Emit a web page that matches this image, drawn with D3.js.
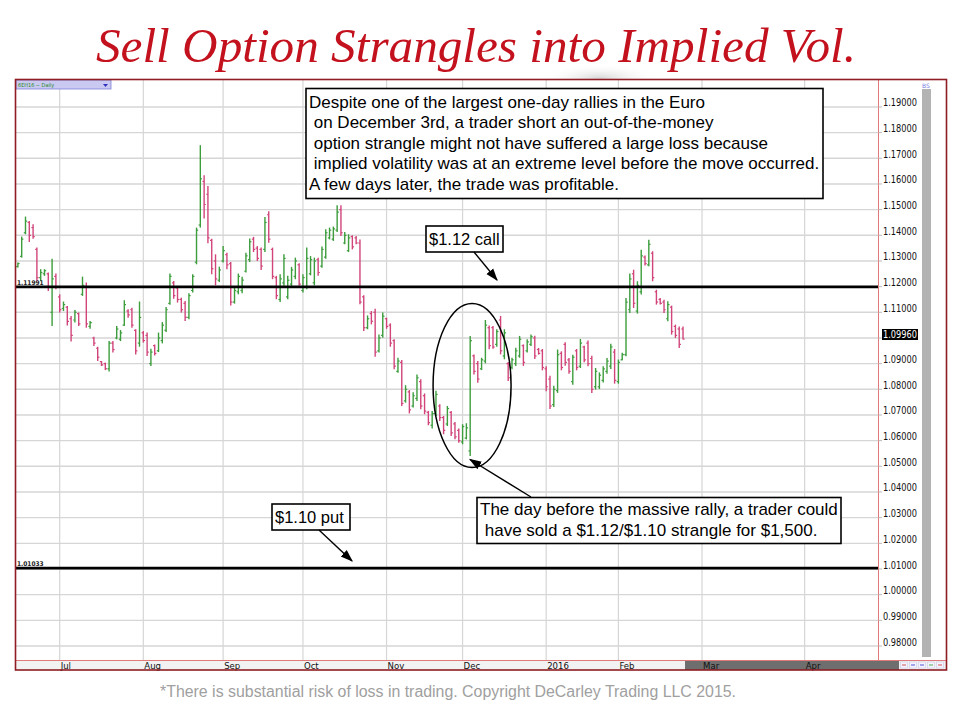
<!DOCTYPE html>
<html><head><meta charset="utf-8">
<script src="https://cdn.jsdelivr.net/npm/d3@7/dist/d3.min.js"></script>
<style>body{margin:0;background:#fff;}svg{display:block;}</style>
</head><body><svg id="c" width="960" height="720"></svg>
<script>
// ---- data (6EH16 daily) ----
const opens = [
1.1278,1.1318,1.1410,1.1450,1.1430,1.1345,1.1235,1.1250,1.1250,1.1100,
1.1240,1.1160,1.1115,1.1120,1.1075,1.1070,1.1095,1.1170,1.1200,1.1045,
1.1000,1.0960,1.0908,1.0900,1.0880,1.0980,1.1000,1.0995,1.1050,1.1105,
1.1110,1.1030,1.0980,1.1020,1.1010,1.0900,1.0970,1.0950,1.0990,1.1030,
1.1135,1.1215,1.1195,1.1150,1.1135,1.1080,1.1185,1.1295,1.1440,1.1610,
1.1560,1.1380,1.1300,1.1225,1.1300,1.1325,1.1290,1.1140,1.1180,1.1185,
1.1260,1.1305,1.1385,1.1350,1.1345,1.1345,1.1480,1.1345,1.1235,1.1150,
1.1215,1.1160,1.1210,1.1240,1.1285,1.1185,1.1200,1.1250,1.1215,1.1305,
1.1280,1.1315,1.1390,1.1385,1.1420,1.1500,1.1370,1.1340,1.1395,1.1390,
1.1370,1.1160,1.1040,1.1095,1.1100,1.0950,1.1010,1.1075,1.1050,1.0990,
1.0870,1.0905,1.0755,1.0790,1.0735,1.0765,1.0830,1.0775,1.0710,1.0660,
1.0705,1.0735,1.0690,1.0665,1.0710,1.0665,1.0640,1.0595,1.0610,1.0560,
1.0930,1.0900,1.0880,1.0910,1.1040,1.1040,1.0975,1.1070,1.0930,1.0900,
1.0885,1.0900,1.0930,1.0970,1.0950,1.0975,1.1000,1.0955,1.0950,1.0880,
1.0840,1.0740,1.0795,1.0940,1.0975,1.0915,1.0830,1.0950,1.0890,1.0965,
1.0980,1.0920,1.0810,1.0810,1.0835,1.0870,1.0890,1.0945,1.0830,1.0915,
1.0935,1.1110,1.1250,1.1105,1.1180,1.1315,1.1285,1.1330,1.1180,1.1150,
1.1140,1.1075,1.1120,1.1045,1.1035,1.1035];
const highs = [
1.1294,1.1395,1.1473,1.1456,1.1443,1.1352,1.1268,1.1268,1.1255,1.1309,
1.1251,1.1170,1.1142,1.1125,1.1086,1.1109,1.1099,1.1239,1.1216,1.1066,
1.1005,1.0966,1.0910,1.0904,1.0988,1.0988,1.1047,1.1031,1.1147,1.1112,
1.1118,1.1034,1.1142,1.1027,1.1021,1.0958,1.0975,1.1021,1.1062,1.1121,
1.1251,1.1222,1.1203,1.1157,1.1144,1.1174,1.1248,1.1430,1.1751,1.1634,
1.1592,1.1387,1.1326,1.1278,1.1358,1.1332,1.1296,1.1196,1.1251,1.1239,
1.1332,1.1388,1.1394,1.1358,1.1352,1.1471,1.1494,1.1352,1.1242,1.1248,
1.1326,1.1242,1.1277,1.1313,1.1291,1.1248,1.1352,1.1319,1.1313,1.1313,
1.1356,1.1424,1.1430,1.1434,1.1517,1.1517,1.1413,1.1404,1.1400,1.1397,
1.1384,1.1166,1.1088,1.1105,1.1114,1.1014,1.1099,1.1079,1.1057,1.0995,
1.0923,1.0914,1.0816,1.0797,1.0789,1.0858,1.0839,1.0784,1.0716,1.0716,
1.0794,1.0742,1.0696,1.0735,1.0716,1.0673,1.0647,1.0664,1.0668,1.1008,
1.0936,1.0910,1.0923,1.1070,1.1049,1.1047,1.1034,1.1086,1.1034,1.0906,
1.0923,1.0962,1.1008,1.0975,1.0995,1.1014,1.1009,1.0961,1.0957,1.0890,
1.0853,1.0814,1.0955,1.0948,1.0983,1.0922,1.0935,1.0957,1.0996,1.0970,
1.0990,1.0931,1.0883,1.0866,1.0890,1.0922,1.0978,1.0957,1.0916,1.0942,
1.1156,1.1251,1.1266,1.1221,1.1344,1.1321,1.1383,1.1338,1.1188,1.1156,
1.1149,1.1143,1.1126,1.1052,1.1045,1.1045];
const lows = [
1.1275,1.1313,1.1404,1.1374,1.1387,1.1222,1.1222,1.1242,1.1183,1.1047,
1.1190,1.1099,1.1105,1.1049,1.0986,1.1060,1.1047,1.1164,1.1040,1.1036,
1.0969,1.0910,1.0891,1.0875,1.0869,1.0943,1.0995,1.0988,1.1047,1.1079,
1.1040,1.0936,1.0966,1.0982,1.0930,1.0891,1.0932,1.0945,1.0979,1.1023,
1.1129,1.1153,1.1138,1.1099,1.1066,1.1073,1.1177,1.1287,1.1430,1.1465,
1.1369,1.1248,1.1205,1.1218,1.1294,1.1268,1.1127,1.1134,1.1170,1.1174,
1.1255,1.1296,1.1335,1.1300,1.1265,1.1335,1.1371,1.1229,1.1151,1.1140,
1.1203,1.1151,1.1203,1.1229,1.1203,1.1177,1.1190,1.1244,1.1205,1.1242,
1.1274,1.1309,1.1384,1.1378,1.1413,1.1397,1.1365,1.1335,1.1345,1.1365,
1.1131,1.1027,1.1034,1.1053,1.0927,1.0943,1.1001,1.1036,1.0966,1.0878,
1.0865,1.0735,1.0748,1.0706,1.0729,1.0754,1.0722,1.0703,1.0660,1.0647,
1.0696,1.0677,1.0625,1.0657,1.0618,1.0605,1.0592,1.0586,1.0605,1.0540,
1.0858,1.0826,1.0875,1.0901,1.0956,1.0958,1.0966,1.0936,1.0917,1.0832,
1.0878,1.0891,1.0923,1.0891,1.0943,1.0969,1.0918,1.0935,1.0874,1.0792,
1.0723,1.0731,1.0786,1.0874,1.0892,1.0861,1.0818,1.0874,1.0883,1.0905,
1.0890,1.0786,1.0799,1.0801,1.0827,1.0861,1.0879,1.0822,1.0822,1.0913,
1.0929,1.1097,1.1117,1.1095,1.1169,1.1282,1.1279,1.1221,1.1130,1.1130,
1.1097,1.1065,1.1013,1.1000,1.0961,1.0994];
const closes = [
1.1290,1.1385,1.1455,1.1400,1.1395,1.1235,1.1255,1.1262,1.1200,1.1230,
1.1200,1.1110,1.1130,1.1065,1.1010,1.1100,1.1055,1.1205,1.1055,1.1060,
1.0980,1.0925,1.0895,1.0880,1.0980,1.0955,1.1035,1.1020,1.1130,1.1090,
1.1050,1.0950,1.1080,1.0990,1.0945,1.0945,1.0940,1.1000,1.1050,1.1110,
1.1240,1.1165,1.1150,1.1110,1.1080,1.1165,1.1240,1.1420,1.1620,1.1520,
1.1390,1.1270,1.1230,1.1265,1.1340,1.1285,1.1140,1.1185,1.1240,1.1225,
1.1320,1.1375,1.1345,1.1310,1.1280,1.1450,1.1385,1.1240,1.1165,1.1230,
1.1310,1.1225,1.1265,1.1300,1.1210,1.1235,1.1310,1.1305,1.1300,1.1255,
1.1345,1.1410,1.1420,1.1425,1.1490,1.1410,1.1400,1.1390,1.1355,1.1370,
1.1140,1.1040,1.1075,1.1065,1.0945,1.1000,1.1085,1.1045,1.0980,1.0890,
1.0910,1.0745,1.0800,1.0720,1.0775,1.0845,1.0735,1.0715,1.0670,1.0705,
1.0780,1.0690,1.0640,1.0725,1.0630,1.0615,1.0600,1.0655,1.0650,1.0990,
1.0870,1.0840,1.0915,1.1050,1.0970,1.0965,1.1025,1.0950,1.1020,1.0845,
1.0915,1.0950,1.0995,1.0905,1.0985,1.1005,1.0930,1.0940,1.0885,1.0810,
1.0735,1.0800,1.0935,1.0885,1.0905,1.0870,1.0925,1.0885,1.0980,1.0915,
1.0900,1.0800,1.0870,1.0855,1.0880,1.0910,1.0965,1.0835,1.0905,1.0935,
1.1140,1.1230,1.1135,1.1205,1.1320,1.1290,1.1365,1.1235,1.1140,1.1135,
1.1110,1.1130,1.1025,1.1010,1.0975,1.0996];

const monthLabels = ["Jul","Aug","Sep","Oct","Nov","Dec","2016","Feb","Mar","Apr"];
const monthIndex  = [11, 33, 54, 75, 97, 117, 139, 158, 180, 207];
const priceTicks  = [0.98,0.99,1.00,1.01,1.02,1.03,1.04,1.05,1.06,1.07,1.08,1.09,1.10,1.11,1.12,1.13,1.14,1.15,1.16,1.17,1.18,1.19];
const callStrike = 1.11991, putStrike = 1.01033, lastPrice = 1.0996;
const rallyIndex = 119;
const title = "Sell Option Strangles into Implied Vol.";
const noteLines = ["Despite one of the largest one-day rallies in the Euro",
  " on December 3rd, a trader short an out-of-the-money",
  " option strangle might not have suffered a large loss because",
  " implied volatility was at an extreme level before the move occurred.",
  "A few days later, the trade was profitable."];
const dayBeforeLines = ["The day before the massive rally, a trader could", " have sold a $1.12/$1.10 strangle for $1,500."];
const footer = "*There is substantial risk of loss in trading. Copyright DeCarley Trading LLC 2015.";

// ---- layout ----
const svg = d3.select("#c");
const P = {l:15.5, r:878.5, t:79.5, b:660.5, outerR:946.5, outerB:670};
const x = d3.scaleLinear().domain([-0.76, 226.3]).range([15, 878]);
const y = d3.scaleLinear().domain([0.97455, 1.20089]).range([660, 79]);
const bars = opens.map((o,i)=>({i, o, h:highs[i], l:lows[i], c:closes[i]}));
const fmt = d3.format(".5f");

// defs
const defs = svg.append("defs");
defs.append("marker").attr("id","ah").attr("viewBox","0 0 10 10").attr("refX",9).attr("refY",5)
  .attr("markerWidth",9).attr("markerHeight",9).attr("orient","auto-start-reverse")
  .append("path").attr("d","M0,1.5 L10,5 L0,8.5 Z").attr("fill","#000");
const glow = defs.append("radialGradient").attr("id","glow");
glow.append("stop").attr("offset","0%").attr("stop-color","#d8d8d8");
glow.append("stop").attr("offset","100%").attr("stop-color","#fff").attr("stop-opacity",0);

// title
svg.append("ellipse").attr("cx",600).attr("cy",78).attr("rx",60).attr("ry",14).attr("fill","url(#glow)");
svg.append("text").attr("x",96).attr("y",62).attr("textLength",760).attr("lengthAdjust","spacingAndGlyphs")
  .attr("font-family","Liberation Serif, DejaVu Serif, serif").attr("font-style","italic")
  .attr("font-size",48).attr("fill","#c3121e").text(title);

// chart background
svg.append("rect").attr("x",P.l).attr("y",P.t).attr("width",P.outerR-P.l).attr("height",P.outerB-P.t).attr("fill","#fff");

// grid
const g = svg.append("g");
g.selectAll("line.hg").data(priceTicks).join("line").attr("class","hg")
  .attr("x1",P.l).attr("x2",881).attr("y1",d=>y(d)).attr("y2",d=>y(d))
  .attr("stroke","#d6d6d6").attr("stroke-width",1.4);
g.selectAll("line.vg").data(monthIndex).join("line").attr("class","vg")
  .attr("x1",d=>x(d)).attr("x2",d=>x(d)).attr("y1",P.t).attr("y2",P.b)
  .attr("stroke","#d6d6d6").attr("stroke-width",1.2);

// OHLC bars
const up = "#3c9d3c", dn = "#d1457a";
const bg = svg.append("g");
bars.forEach(d=>{
  const col = d.c >= d.o ? up : dn, cx = x(d.i);
  bg.append("line").attr("x1",cx).attr("x2",cx).attr("y1",y(d.h)).attr("y2",y(d.l)).attr("stroke",col).attr("stroke-width",1.4);
  bg.append("line").attr("x1",cx-1.7).attr("x2",cx).attr("y1",y(d.o)).attr("y2",y(d.o)).attr("stroke",col).attr("stroke-width",1.2);
  bg.append("line").attr("x1",cx).attr("x2",cx+1.7).attr("y1",y(d.c)).attr("y2",y(d.c)).attr("stroke",col).attr("stroke-width",1.2);
});

// strike lines
[callStrike, putStrike].forEach(v=>{
  svg.append("line").attr("x1",P.l).attr("x2",P.r).attr("y1",y(v)).attr("y2",y(v)).attr("stroke","#000").attr("stroke-width",2.6);
  svg.append("text").attr("x",17).attr("y",y(v)-2).attr("font-family","DejaVu Sans Condensed, DejaVu Sans").attr("font-size",6.5)
    .attr("font-weight","bold").attr("fill","#222").text(fmt(v));
});

// header tab
svg.append("rect").attr("x",16).attr("y",80).attr("width",95).attr("height",9).attr("fill","#c9c9f2").attr("stroke","#8080d8").attr("stroke-width",0.8);
svg.append("text").attr("x",18).attr("y",87).attr("font-family","DejaVu Sans Condensed, DejaVu Sans").attr("font-size",5.5).attr("fill","#2a8a2a").text("6EH16 ~ Daily");
svg.append("path").attr("d","M103,84 L108,84 L105.5,87 Z").attr("fill","#3030c0");

// right axis
svg.append("rect").attr("x",P.r).attr("y",P.t).attr("width",P.outerR-P.r).attr("height",P.b-P.t).attr("fill","#fff");
svg.append("line").attr("x1",P.r).attr("x2",P.r).attr("y1",P.t).attr("y2",P.b).attr("stroke","#e07a7a").attr("stroke-width",1);
svg.selectAll("text.yt").data(priceTicks).join("text").attr("class","yt")
  .attr("x",883).attr("y",d=>y(d)-0.5).attr("font-family","DejaVu Sans Condensed, DejaVu Sans").attr("font-size",9.6)
  .attr("textLength",34).attr("lengthAdjust","spacingAndGlyphs")
  .attr("fill","#111").text(d=>fmt(d));
svg.selectAll("line.yk").data(priceTicks).join("line").attr("class","yk")
  .attr("x1",P.r).attr("x2",882).attr("y1",d=>y(d)).attr("y2",d=>y(d)).attr("stroke","#bbb");
// last price
svg.append("rect").attr("x",882).attr("y",y(lastPrice)-10).attr("width",36).attr("height",11).attr("fill","#000");
svg.append("text").attr("x",883).attr("y",y(lastPrice)-1.5).attr("font-family","DejaVu Sans Condensed, DejaVu Sans").attr("font-size",9.6)
  .attr("textLength",34).attr("lengthAdjust","spacingAndGlyphs")
  .attr("fill","#fff").text(fmt(lastPrice));
// scrollbar
svg.append("rect").attr("x",922).attr("y",89).attr("width",9).attr("height",568).attr("fill","#b3b3b3");
svg.append("text").attr("x",922).attr("y",88).attr("font-family","DejaVu Sans").attr("font-size",6).attr("fill","#7a7ae0").text("BS");

// bottom axis band
svg.append("rect").attr("x",P.l).attr("y",P.b).attr("width",P.outerR-P.l).attr("height",P.outerB-P.b).attr("fill","#f2f2f2");
svg.append("rect").attr("x",x(175)+2).attr("y",P.b).attr("width",899-x(175)-2).attr("height",P.outerB-P.b).attr("fill","#6e6e6e");
svg.append("line").attr("x1",P.l).attr("x2",P.outerR).attr("y1",P.b).attr("y2",P.b).attr("stroke","#e07a7a").attr("stroke-width",1);
svg.selectAll("text.mt").data(monthLabels).join("text").attr("class","mt")
  .attr("x",(d,i)=>x(monthIndex[i])+1).attr("y",668.5).attr("font-family","Liberation Sans Narrow, DejaVu Sans Condensed, sans-serif")
  .attr("font-size",9.5).attr("fill","#111").text(d=>d);
const icons = ["#d04040","#4040d0","#4040d0","#40a040","#d04040"];
icons.forEach((c,i)=>{
  svg.append("rect").attr("x",900.5+i*9).attr("y",662).attr("width",7).attr("height",6).attr("fill","#f4f4ff").attr("stroke","#c8c8e8").attr("stroke-width",0.6);
  svg.append("line").attr("x1",902+i*9).attr("x2",906+i*9).attr("y1",665).attr("y2",665).attr("stroke",c).attr("stroke-width",0.9);
});

// outer frame
svg.append("rect").attr("x",P.l).attr("y",P.t).attr("width",P.outerR-P.l).attr("height",P.outerB-P.t)
  .attr("fill","none").attr("stroke","#8e1d24").attr("stroke-width",1.6);

// annotations
const font = "Liberation Sans, Arial, sans-serif";
function box(x0,y0,w,h){ svg.append("rect").attr("x",x0).attr("y",y0).attr("width",w).attr("height",h).attr("fill","#fff").attr("stroke","#000").attr("stroke-width",1.6); }
function arrow(x1,y1,x2,y2){ svg.append("line").attr("x1",x1).attr("y1",y1).attr("x2",x2).attr("y2",y2).attr("stroke","#000").attr("stroke-width",1.4).attr("marker-end","url(#ah)"); }

box(306,88.5,517,110);
noteLines.forEach((t,i)=>svg.append("text").attr("x",309).attr("y",108+i*20.4).attr("font-family",font).attr("font-size",17)
  .style("white-space","pre").attr("fill","#000").text(t));

box(426,226,77,26);
svg.append("text").attr("x",429).attr("y",245).attr("font-family",font).attr("font-size",16.5).attr("fill","#000").text("$1.12 call");
arrow(474,252,497,280);

svg.append("ellipse").attr("cx",x(rallyIndex+0.5)).attr("cy",385.5).attr("rx",39).attr("ry",82).attr("fill","none").attr("stroke","#000").attr("stroke-width",1.5);
arrow(531,497,470,459.5);

box(477,497.5,364,46);
dayBeforeLines.forEach((t,i)=>svg.append("text").attr("x",480).attr("y",515+i*21).attr("font-family",font).attr("font-size",17)
  .style("white-space","pre").attr("fill","#000").text(t));

box(272,504,78,26);
svg.append("text").attr("x",275).attr("y",523).attr("font-family",font).attr("font-size",16.5).attr("fill","#000").text("$1.10 put");
arrow(319,530,352,561);

// footer
svg.append("text").attr("x",160).attr("y",697).attr("textLength",576).attr("lengthAdjust","spacingAndGlyphs")
  .attr("font-family","Liberation Sans Narrow, Liberation Sans, sans-serif").attr("font-size",16).attr("fill","#a0a0a0").text(footer);
</script></body></html>
